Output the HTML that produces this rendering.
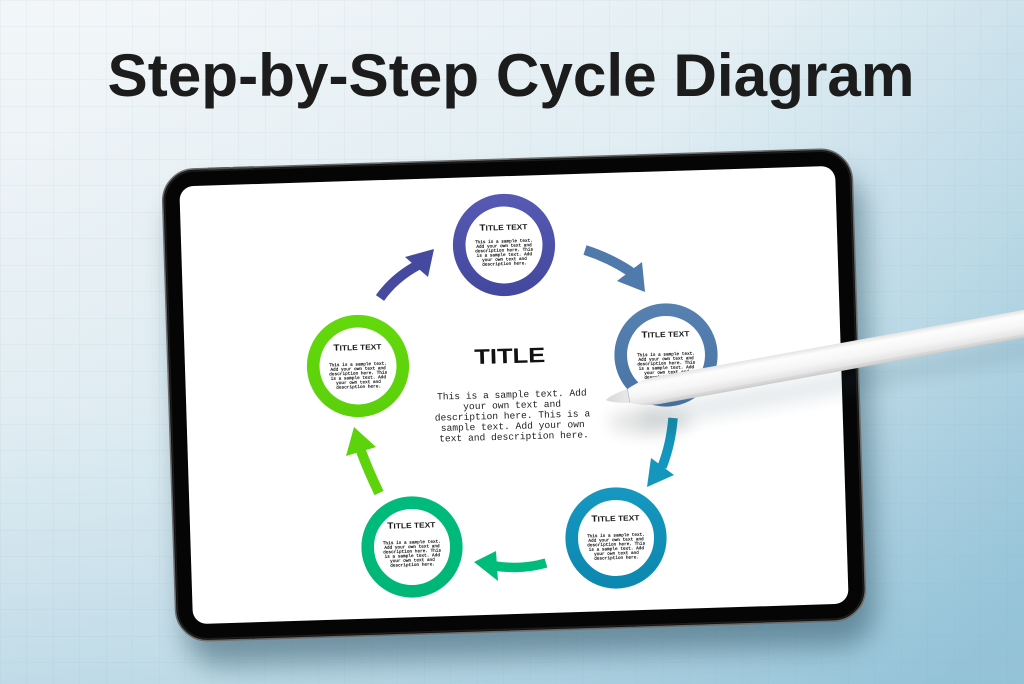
<!DOCTYPE html>
<html>
<head>
<meta charset="utf-8">
<style>
  html,body{margin:0;padding:0;width:1024px;height:684px;overflow:hidden;background:#eef4f7;}
  svg{display:block;}
</style>
</head>
<body>
<svg width="1024" height="684" viewBox="0 0 1024 684" xmlns="http://www.w3.org/2000/svg">
  <defs>
    <linearGradient id="bg" x1="150" y1="0" x2="950" y2="684" gradientUnits="userSpaceOnUse">
      <stop offset="0" stop-color="#f2f6f8"/>
      <stop offset="0.45" stop-color="#e4eff4"/>
      <stop offset="0.75" stop-color="#bfdbe7"/>
      <stop offset="1" stop-color="#97c4d8"/>
    </linearGradient>
    <linearGradient id="bgv" x1="0" y1="0" x2="0" y2="684" gradientUnits="userSpaceOnUse">
      <stop offset="0" stop-color="#9cc8dc" stop-opacity="0"/>
      <stop offset="0.6" stop-color="#9cc8dc" stop-opacity="0.15"/>
      <stop offset="1" stop-color="#8fc0d6" stop-opacity="0.45"/>
    </linearGradient>
    <pattern id="grid" width="26.5" height="26.5" patternUnits="userSpaceOnUse">
      <path d="M26.5 0 L0 0 0 26.5" fill="none" stroke="#8aa7b8" stroke-opacity="0.16" stroke-width="1"/>
    </pattern>
    <filter id="blur14" x="-20%" y="-20%" width="140%" height="140%"><feGaussianBlur stdDeviation="14"/></filter>
    <filter id="blur8" x="-50%" y="-50%" width="200%" height="200%"><feGaussianBlur stdDeviation="8"/></filter>
    <filter id="blur5" x="-50%" y="-50%" width="200%" height="200%"><feGaussianBlur stdDeviation="5"/></filter>
    <linearGradient id="gPurple" x1="0" y1="0" x2="0" y2="1">
      <stop offset="0" stop-color="#5659b2"/><stop offset="1" stop-color="#44489e"/>
    </linearGradient>
    <linearGradient id="gSteel" x1="0" y1="0" x2="0" y2="1">
      <stop offset="0" stop-color="#5580b0"/><stop offset="1" stop-color="#4a74a6"/>
    </linearGradient>
    <linearGradient id="gTeal" x1="0" y1="0" x2="0" y2="1">
      <stop offset="0" stop-color="#1597bf"/><stop offset="1" stop-color="#0d88b0"/>
    </linearGradient>
    <linearGradient id="gGreen" x1="0" y1="0" x2="0" y2="1">
      <stop offset="0" stop-color="#00bb7c"/><stop offset="1" stop-color="#00b677"/>
    </linearGradient>
    <linearGradient id="gLime" x1="0" y1="0" x2="0" y2="1">
      <stop offset="0" stop-color="#63d80c"/><stop offset="1" stop-color="#5cd00a"/>
    </linearGradient>
    <linearGradient id="pen" x1="0" y1="-13.5" x2="0" y2="13.5" gradientUnits="userSpaceOnUse">
      <stop offset="0" stop-color="#e6e6e6"/>
      <stop offset="0.18" stop-color="#fdfdfd"/>
      <stop offset="0.55" stop-color="#f6f6f6"/>
      <stop offset="0.85" stop-color="#e4e4e4"/>
      <stop offset="1" stop-color="#c9c9c9"/>
    </linearGradient>
    <linearGradient id="tip" x1="0" y1="0" x2="30" y2="0" gradientUnits="userSpaceOnUse">
      <stop offset="0" stop-color="#d8d8d8"/>
      <stop offset="1" stop-color="#eeeeee"/>
    </linearGradient>
  </defs>

  <!-- background -->
  <rect width="1024" height="684" fill="url(#bg)"/>
  <rect width="1024" height="684" fill="url(#bgv)"/>
  <rect width="1024" height="684" fill="url(#grid)"/>

  <!-- heading -->
  <text x="511" y="96" text-anchor="middle" font-family="Liberation Sans, Arial, sans-serif" font-weight="bold" font-size="60" fill="#1c1c1c" textLength="807" lengthAdjust="spacingAndGlyphs">Step-by-Step Cycle Diagram</text>

  <!-- tablet -->
  <g transform="rotate(-1.8 514 395)">
    <rect x="178" y="184" width="690" height="472" rx="34" fill="#3a6072" opacity="0.6" filter="url(#blur14)"/>
    <rect x="169" y="159" width="690" height="472" rx="32" fill="#050505" stroke="#6c6c6c" stroke-width="1.6"/>
    <rect x="171" y="161" width="686" height="468" rx="30" fill="none" stroke="#1d1d1d" stroke-width="1.5"/>
    <rect x="215" y="158.2" width="22" height="2" rx="1" fill="#555"/>
    <rect x="240" y="158.2" width="22" height="2" rx="1" fill="#555"/>
    <rect x="186" y="176" width="656" height="438" rx="14" fill="#ffffff"/>
  </g>

  <!-- arrows -->
  <g fill="none" stroke-linecap="butt">
    <path d="M380 298 Q394 278 418 265" stroke="#464a9f" stroke-width="10"/>
    <path d="M585 250 Q610 258 631 272" stroke="#4f7aab" stroke-width="10"/>
    <path d="M673 418 Q671 444 662 467" stroke="#1597bd" stroke-width="9.5"/>
    <path d="M546 563 Q522 570 495 566" stroke="#00bc7b" stroke-width="9.5"/>
    <path d="M379 493 Q368 470 361 451" stroke="#5dd30c" stroke-width="10"/>
  </g>
  <polygon points="434,249 405,257 428,277" fill="#464a9f"/>
  <polygon points="645,292 617,281 642,262" fill="#4f7aab"/>
  <polygon points="647,487 651,458 674,475" fill="#1597bd"/>
  <polygon points="474,562 496,551 498,581" fill="#00bc7b"/>
  <polygon points="354,427 346,456 376,447" fill="#5dd30c"/>

  <!-- circles -->
  <circle cx="504" cy="245" r="44.8" fill="#fff" stroke="url(#gPurple)" stroke-width="12.6"/>
  <circle cx="666" cy="355" r="45.3" fill="#fff" stroke="url(#gSteel)" stroke-width="12.6"/>
  <circle cx="616" cy="538" r="44.3" fill="#fff" stroke="url(#gTeal)" stroke-width="12.6"/>
  <circle cx="412" cy="547" r="44.3" fill="#fff" stroke="url(#gGreen)" stroke-width="12.6"/>
  <circle cx="358" cy="366" r="44.8" fill="#fff" stroke="url(#gLime)" stroke-width="12.6"/>

  <!-- circle texts (drawn at 2x then scaled 0.5) -->
  <g font-family="Liberation Mono, Courier New, monospace" fill="#111">
    <g transform="translate(504 245) rotate(-1.8) scale(0.5)">
      <text x="0" y="-30" text-anchor="middle" font-family="Liberation Sans, Arial, sans-serif" font-weight="bold" font-size="15" textLength="96" lengthAdjust="spacingAndGlyphs" fill="#1a1a1a"><tspan font-size="18">T</tspan>ITLE <tspan font-size="15">TEXT</tspan></text>
      <g font-size="8.8" text-anchor="middle" stroke="#111" stroke-width="0.35">
        <text x="0" y="-5">This is a sample text.</text>
        <text x="0" y="4">Add your own text and</text>
        <text x="0" y="13">description here. This</text>
        <text x="0" y="22">is a sample text. Add</text>
        <text x="0" y="31">your own text and</text>
        <text x="0" y="40">description here.</text>
      </g>
    </g>
    <g transform="translate(666 355) rotate(-1.8) scale(0.5)">
      <text x="0" y="-36" text-anchor="middle" font-family="Liberation Sans, Arial, sans-serif" font-weight="bold" font-size="15" textLength="96" lengthAdjust="spacingAndGlyphs" fill="#1a1a1a"><tspan font-size="18">T</tspan>ITLE TEXT</text>
      <g font-size="8.8" text-anchor="middle" stroke="#111" stroke-width="0.35">
        <text x="0" y="1">This is a sample text.</text>
        <text x="0" y="10">Add your own text and</text>
        <text x="0" y="19">description here. This</text>
        <text x="0" y="28">is a sample text. Add</text>
        <text x="0" y="37">your own text and</text>
        <text x="0" y="46">description here.</text>
      </g>
    </g>
    <g transform="translate(616 538) rotate(-1.8) scale(0.5)">
      <text x="0" y="-34" text-anchor="middle" font-family="Liberation Sans, Arial, sans-serif" font-weight="bold" font-size="15" textLength="96" lengthAdjust="spacingAndGlyphs" fill="#1a1a1a"><tspan font-size="18">T</tspan>ITLE TEXT</text>
      <g font-size="8.8" text-anchor="middle" stroke="#111" stroke-width="0.35">
        <text x="0" y="-3">This is a sample text.</text>
        <text x="0" y="6">Add your own text and</text>
        <text x="0" y="15">description here. This</text>
        <text x="0" y="24">is a sample text. Add</text>
        <text x="0" y="33">your own text and</text>
        <text x="0" y="42">description here.</text>
      </g>
    </g>
    <g transform="translate(412 547) rotate(-1.8) scale(0.5)">
      <text x="0" y="-38" text-anchor="middle" font-family="Liberation Sans, Arial, sans-serif" font-weight="bold" font-size="15" textLength="96" lengthAdjust="spacingAndGlyphs" fill="#1a1a1a"><tspan font-size="18">T</tspan>ITLE TEXT</text>
      <g font-size="8.8" text-anchor="middle" stroke="#111" stroke-width="0.35">
        <text x="0" y="-7">This is a sample text.</text>
        <text x="0" y="2">Add your own text and</text>
        <text x="0" y="11">description here. This</text>
        <text x="0" y="20">is a sample text. Add</text>
        <text x="0" y="29">your own text and</text>
        <text x="0" y="38">description here.</text>
      </g>
    </g>
    <g transform="translate(358 366) rotate(-1.8) scale(0.5)">
      <text x="0" y="-32" text-anchor="middle" font-family="Liberation Sans, Arial, sans-serif" font-weight="bold" font-size="15" textLength="96" lengthAdjust="spacingAndGlyphs" fill="#1a1a1a"><tspan font-size="18">T</tspan>ITLE TEXT</text>
      <g font-size="8.8" text-anchor="middle" stroke="#111" stroke-width="0.35">
        <text x="0" y="-1">This is a sample text.</text>
        <text x="0" y="8">Add your own text and</text>
        <text x="0" y="17">description here. This</text>
        <text x="0" y="26">is a sample text. Add</text>
        <text x="0" y="35">your own text and</text>
        <text x="0" y="44">description here.</text>
      </g>
    </g>
  </g>

  <!-- center title and text -->
  <g transform="rotate(-1.6 512 400)">
    <text x="511" y="363" text-anchor="middle" font-family="Liberation Sans, Arial, sans-serif" font-weight="bold" font-size="21" fill="#111" textLength="71" lengthAdjust="spacingAndGlyphs">TITLE</text>
    <g font-family="Liberation Mono, Courier New, monospace" font-size="9.6" fill="#1e1e1e" text-anchor="middle">
      <text x="512" y="397.5">This is a sample text. Add</text>
      <text x="512" y="408">your own text and</text>
      <text x="512" y="418.5">description here. This is a</text>
      <text x="512" y="429">sample text. Add your own</text>
      <text x="513" y="439.5">text and description here.</text>
    </g>
  </g>

  <!-- pencil shadow -->
  <ellipse cx="650" cy="422" rx="42" ry="14" fill="#000" opacity="0.10" filter="url(#blur8)"/>
  <g transform="translate(606 400) rotate(-10.3)">
    <rect x="30" y="14" width="440" height="22" fill="#3b5f70" opacity="0.12" filter="url(#blur8)"/>
  </g>

  <!-- pencil -->
  <g transform="translate(606 400) rotate(-10.3)">
    <path d="M0 0 C3 -2.5 10 -5 23 -7 L23 7 C10 5 3 2.5 0 0 Z" fill="url(#tip)"/>
    <path d="M23 -7 C32 -11 40 -13.5 52 -14 L470 -14 L470 13.5 L52 13.5 C40 13 32 10.5 23 7 Z" fill="url(#pen)"/>
    <line x1="23" y1="-7" x2="23" y2="7" stroke="#bdbdbd" stroke-width="0.8"/>
    <path d="M52 10.5 L470 10.5" stroke="#d6d6d6" stroke-width="1"/>
  </g>
</svg>
</body>
</html>
